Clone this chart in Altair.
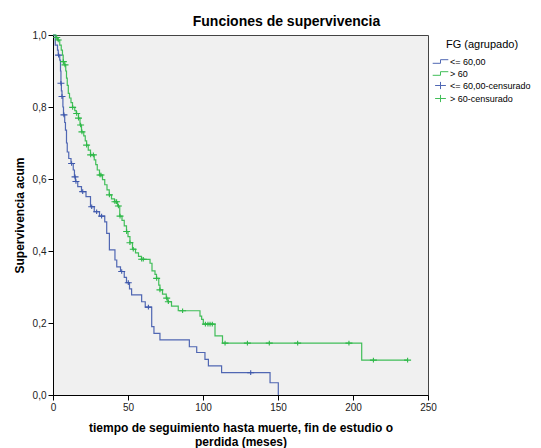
import altair as alt
import pandas as pd

# ---- data ----
blue_t = [0, 1.5, 3, 3.5, 4.5, 5, 5.3, 5.6, 6, 6.6, 7, 7.8, 8.3, 9, 9.5, 10.5, 12, 13.5, 14.3, 15,
          16.5, 19, 22, 25, 27.5, 31, 34.5, 35.8, 37.6, 41.3, 42.5, 45, 47.5, 49, 51, 52.4, 59.1,
          61.5, 65.8, 67.3, 71.3, 90.9, 95.8, 101.3, 103.6, 112.4, 144.7, 150.2]
blue_s = [1.0, 0.972, 0.958, 0.944, 0.93, 0.90, 0.866, 0.845, 0.829, 0.80, 0.778, 0.757, 0.736, 0.70,
          0.675, 0.657, 0.643, 0.625, 0.606, 0.593, 0.579, 0.565, 0.551, 0.523, 0.509, 0.497, 0.481,
          0.449, 0.403, 0.375, 0.356, 0.343, 0.327, 0.312, 0.295, 0.278, 0.259, 0.244, 0.19, 0.171,
          0.153, 0.134, 0.118, 0.099, 0.081, 0.062, 0.034, 0.0]

green_t = [0, 2, 3, 4.5, 5.5, 6.3, 6.8, 7.5, 8.5, 9, 9.5, 10.2, 11, 12, 13, 14.5, 15.5, 17, 18, 19,
           20.5, 21.5, 22.4, 23.5, 25, 27.5, 28.5, 29.5, 31, 33, 34.5, 36, 37.5, 39, 41, 43, 44.5,
           46, 47.5, 49, 50, 51.3, 53, 55, 57, 59, 64.7, 66, 68, 69, 70.5, 71.3, 73, 75.5, 76.5,
           79, 83.5, 98, 99.1, 100.2, 108, 113, 205.8, 236.4]
green_s = [1.0, 0.993, 0.986, 0.972, 0.958, 0.944, 0.926, 0.917, 0.90, 0.88, 0.86, 0.838, 0.825,
           0.812, 0.799, 0.79, 0.782, 0.769, 0.75, 0.731, 0.72, 0.706, 0.694, 0.68, 0.667, 0.653,
           0.64, 0.625, 0.611, 0.598, 0.584, 0.57, 0.556, 0.545, 0.537, 0.525, 0.497, 0.485, 0.47,
           0.454, 0.44, 0.423, 0.405, 0.395, 0.385, 0.377, 0.366, 0.345, 0.335, 0.324, 0.305, 0.292,
           0.28, 0.269, 0.259, 0.247, 0.234, 0.219, 0.21, 0.197, 0.164, 0.144, 0.097, 0.097]

blue_cens_t = [3.7, 5.3, 6.0, 7.3, 12.4, 14.7, 15.3, 19.8, 25.8, 29.1, 32.4, 45.8, 50.2, 63.6, 131.8]
blue_cens_s = [0.944, 0.866, 0.829, 0.778, 0.643, 0.606, 0.593, 0.565, 0.523, 0.509, 0.497, 0.343,
               0.312, 0.244, 0.062]

green_cens_t = [2.5, 3.5, 6.9, 8.0, 13.1, 15.8, 17.0, 18.4, 19.3, 22.4, 25.1, 26.9, 31.3, 32.0, 37.6,
                41.3, 42.4, 43.6, 44.7, 49.1, 51.3, 53.5, 59.1, 60.2, 69.1, 71.3, 75.8, 76.9, 86.4,
                101.6, 103.3, 104.7, 106.2, 114.7, 129.6, 144.2, 163.1, 197.3, 213.6, 236.4]
green_cens_s = [0.993, 0.986, 0.926, 0.917, 0.799, 0.782, 0.769, 0.75, 0.731, 0.694, 0.667, 0.667,
                0.611, 0.611, 0.556, 0.537, 0.537, 0.525, 0.497, 0.454, 0.423, 0.405, 0.377, 0.377,
                0.324, 0.292, 0.269, 0.259, 0.234, 0.197, 0.197, 0.197, 0.197, 0.144, 0.144, 0.144,
                0.144, 0.144, 0.097, 0.097]

series = ["<= 60,00", "> 60", "<= 60,00-censurado", "> 60-censurado"]
colors = ["#3E58AC", "#2EB848", "#3E58AC", "#2EB848"]
step_path = "M-1.3,0.3H0V-0.3H1.3"
cross_path = "M-0.9,0H0.9M0,-0.6V0.6"
shapes = [step_path, step_path, cross_path, cross_path]

lines_df = pd.concat([
    pd.DataFrame({"t": blue_t, "s": blue_s, "series": series[0]}),
    pd.DataFrame({"t": green_t, "s": green_s, "series": series[1]}),
])
cens_df = pd.concat([
    pd.DataFrame({"t": blue_cens_t, "s": blue_cens_s, "series": series[2]}),
    pd.DataFrame({"t": green_cens_t, "s": green_cens_s, "series": series[3]}),
])

FONT = "Liberation Sans"

x_enc = alt.X("t:Q", scale=alt.Scale(domain=[0, 250], nice=False),
              axis=alt.Axis(values=[0, 50, 100, 150, 200, 250], labelFlush=False,
                            title=["tiempo de seguimiento hasta muerte, fin de estudio o",
                                   "perdida (meses)"]))
y_enc = alt.Y("s:Q", scale=alt.Scale(domain=[0, 1], nice=False),
              axis=alt.Axis(values=[0, 0.2, 0.4, 0.6, 0.8, 1.0],
                            labelExpr="replace(format(datum.value, '.1f'), '.', ',')",
                            title="Supervivencia acum"))
color_enc = alt.Color("series:N", scale=alt.Scale(domain=series, range=colors),
                      legend=alt.Legend(title="FG (agrupado)"))

lines = alt.Chart(lines_df).mark_line(interpolate="step-after", strokeWidth=1.2, opacity=0.9).encode(
    x=x_enc, y=y_enc, color=color_enc, detail="series:N"
)
cens = alt.Chart(cens_df).mark_point(filled=False, strokeWidth=1.1, size=60, opacity=1).encode(
    x="t:Q", y="s:Q", color=color_enc,
    shape=alt.Shape("series:N", scale=alt.Scale(domain=series, range=shapes),
                    legend=alt.Legend(title="FG (agrupado)"))
)

chart = alt.layer(lines, cens).properties(
    width=375, height=360,
    title=alt.Title("Funciones de supervivencia", fontSize=14, fontWeight="bold", font=FONT,
                    color="#000000", dx=46, offset=1),
    autosize=alt.AutoSizeParams(type="none"),
    padding={"left": 53, "top": 35, "right": 113, "bottom": 53},
).configure_view(
    fill="#F0F0F0", stroke="#444444", strokeWidth=1
).configure_axis(
    labelFont=FONT, labelFontSize=10, labelColor="#222222",
    titleFont=FONT, titleFontSize=12, titleFontWeight="bold", titleColor="#000000",
    domainColor="#000000", tickColor="#000000", tickSize=5, grid=False,
    labelPadding=2
).configure_axisX(
    titlePadding=10, titleLineHeight=14
).configure_axisY(
    titlePadding=6
).configure_legend(
    orient="none", legendX=381, legendY=4, padding=0,
    titleFont=FONT, titleFontSize=11, titleFontWeight="normal", titleColor="#000000",
    titleAnchor="middle", titlePadding=5,
    labelFont=FONT, labelFontSize=9, labelColor="#000000", labelOffset=3,
    symbolSize=144, symbolStrokeWidth=1, rowPadding=0
)

chart.save("out.html", embed_options={"renderer": "svg", "actions": False})
